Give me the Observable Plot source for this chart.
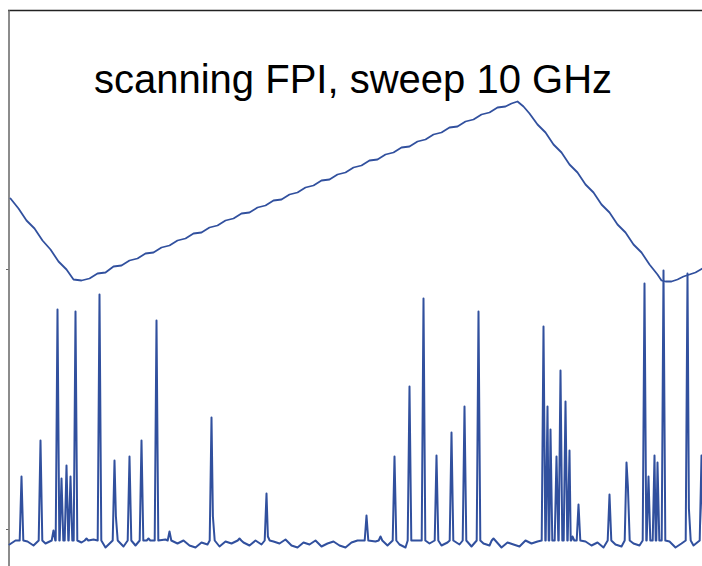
<!DOCTYPE html>
<html>
<head>
<meta charset="utf-8">
<script src="https://cdn.jsdelivr.net/npm/d3@7"></script>
<script src="https://cdn.jsdelivr.net/npm/@observablehq/plot@0.6"></script>
<style>
  html, body { margin: 0; padding: 0; background: #fff; }
  #chart svg { display: block; }
</style>
</head>
<body>
<div id="chart"></div>
<script>
// Title
const title = "scanning FPI, sweep 10 GHz";

// Sweep (ramp) trace: time samples and levels (arbitrary units)
const sweepT = [1, 9, 17, 25, 33, 41, 49, 57, 64, 72, 80, 88, 96, 104, 112, 120, 128, 136, 144, 152, 160, 168, 176, 184, 192, 200, 208, 216, 224, 232, 240, 248, 256, 264, 272, 280, 288, 296, 304, 312, 320, 328, 336, 344, 352, 360, 368, 376, 384, 392, 400, 408, 416, 424, 432, 440, 448, 456, 464, 472, 480, 488, 496, 502, 508, 514, 520, 528, 536, 544, 552, 560, 568, 576, 584, 592, 600, 608, 616, 624, 632, 640, 648, 652, 656, 662, 668, 674, 680, 686, 693];
const sweepV = [368, 358, 346, 338, 326, 317, 305, 297, 287, 286, 288, 293, 294, 300, 301, 306, 308, 313, 314, 319, 321, 326, 328, 333, 334, 339, 341, 346, 348, 353, 354, 359, 361, 366, 367, 372, 374, 379, 381, 386, 387, 392, 394, 399, 401, 406, 407, 412, 414, 419, 420, 425, 427, 432, 434, 439, 440, 445, 447, 452, 454, 459, 460, 463, 465, 460, 453, 442, 434, 422, 414, 402, 394, 382, 374, 362, 354, 342, 334, 322, 314, 302, 292, 286, 285, 285, 287, 290, 292, 294, 298];

// Transmission peaks: position and height
const peakT = [12, 31, 44, 48, 52, 57, 61, 66, 77, 90, 105, 120, 132, 139, 147, 160, 202, 230, 257, 357, 371, 385, 400, 414, 427, 442, 455, 469, 484, 534, 538, 541, 547, 551, 556, 560, 563, 569, 600, 617, 635, 639, 645, 648, 654, 678, 692];
const peakV = [90, 126, 36, 257, 88, 101, 90, 255, 28, 272, 106, 110, 126, 28, 246, 35, 149, 28, 73, 51, 30, 110, 180, 268, 111, 134, 160, 255, 28, 240, 160, 137, 110, 196, 165, 116, 30, 62, 72, 104, 283, 90, 111, 104, 296, 293, 111];
// shoulder on the falling side of a peak (0 = none)
const peakShoulder = [0, 0, 0, 0, 0, 0, 0, 0, 0, 0, 50, 0, 0, 0, 0, 0, 50, 0, 30, 0, 0, 0, 0, 0, 0, 0, 0, 0, 0, 0, 0, 0, 0, 0, 0, 0, 0, 0, 0, 80, 0, 0, 0, 0, 0, 58, 0];

// Baseline noise level of the detector trace, every 6 samples
const baseNoise = [22, 26, 20, 25, 21, 27, 23, 19, 25, 22, 26, 20, 24, 21, 27, 22, 19, 25, 23, 20, 26, 21, 24, 19, 25, 22, 27, 20, 23, 26, 21, 19, 24, 22, 26, 20, 25, 23, 19, 24, 21, 26, 22, 20, 25, 23, 27, 21, 19, 24, 22, 26, 20, 23, 25, 21, 19, 24, 26, 22, 20, 25, 23, 21, 27, 22, 19, 24, 26, 20, 23, 25, 21, 24, 19, 22, 26, 20, 25, 23, 21, 27, 19, 24, 22, 20, 26, 23, 25, 21, 19, 24, 22, 26, 20, 23, 25, 21, 24, 19, 26, 22, 20, 25, 23, 21, 24, 26, 20, 22, 25, 19, 23, 26, 21, 24, 22];
const baseLevel = 24;

// Left-axis tick levels
const tickLevels = [297, 37];

// ---- build tables ----
const sweep = sweepT.map((t, i) => ({t, v: sweepV[i]}));

const sig = [];
peakT.forEach((p, i) => {
  const sh = peakShoulder[i];
  sig.push({t: p - 1.8, v: baseLevel + 2});
  sig.push({t: p, v: peakV[i]});
  if (sh) {
    sig.push({t: p + 1.4, v: sh});
    sig.push({t: p + 3.2, v: baseLevel + 2});
  } else {
    sig.push({t: p + 1.8, v: baseLevel + 2});
  }
});
baseNoise.forEach((v, i) => {
  const t = i * 6;
  if (t <= 693 && peakT.every(p => Math.abs(p - t) > 3.5)) sig.push({t, v});
});
sig.sort((a, b) => a.t - b.t);

const blue = "#31509e";

const chart = Plot.plot({
  width: 702,
  height: 566,
  marginTop: 10,
  marginLeft: 9,
  marginRight: 0,
  marginBottom: 0,
  x: {type: "linear", domain: [0, 693], axis: null},
  y: {type: "linear", domain: [0, 556], axis: null},
  style: {background: "#fff", overflow: "visible"},
  marks: [
    Plot.ruleY([556], {stroke: "#222", strokeWidth: 1.5, x1: -1, x2: 693}),
    Plot.ruleX([-0.5], {stroke: "#666", strokeWidth: 1.5}),
    Plot.ruleY(tickLevels, {x1: -3, x2: -0.5, stroke: "#666"}),
    Plot.line(sig, {x: "t", y: "v", stroke: blue, strokeWidth: 2, strokeLinejoin: "round"}),
    Plot.line(sweep, {x: "t", y: "v", stroke: blue, strokeWidth: 1.8, strokeLinejoin: "round"}),
    Plot.text([title], {frameAnchor: "top", dy: 54, dx: -3, fontSize: 40, fill: "#000",
      fontFamily: "Liberation Sans, Arial, Helvetica, sans-serif"})
  ]
});
document.getElementById("chart").appendChild(chart);
</script>
</body>
</html>
